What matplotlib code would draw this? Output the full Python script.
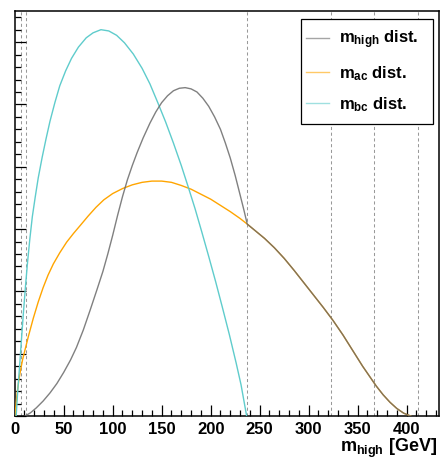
import matplotlib
matplotlib.use('Agg')
import matplotlib.pyplot as plt
from matplotlib.ticker import MultipleLocator
from matplotlib.patches import Rectangle

plt.rcParams['font.family'] = ['Liberation Sans', 'DejaVu Sans']
plt.rcParams['font.weight'] = 'bold'
plt.rcParams['mathtext.fontset'] = 'custom'
plt.rcParams['mathtext.rm'] = 'Liberation Sans:bold'
plt.rcParams['mathtext.it'] = 'Liberation Sans:bold'
plt.rcParams['mathtext.bf'] = 'Liberation Sans:bold'

# mbc distribution (arbitrary units)
bc_x = [1.5, 3, 5, 7, 9, 11, 13, 15.5, 18, 21, 24, 28, 32, 36, 41, 46, 52, 58,
        65, 73, 80, 88, 96, 104, 112, 121, 130, 138, 146, 154, 162, 170, 177,
        184, 191, 198, 205, 212, 219, 226, 231, 236.7]
bc_y = [0, 0.38, 0.80, 1.25, 1.68, 2.08, 2.45, 2.85, 3.20, 3.52, 3.82, 4.15,
        4.45, 4.73, 5.03, 5.30, 5.54, 5.74, 5.92, 6.07, 6.15, 6.20, 6.18, 6.11,
        5.99, 5.81, 5.58, 5.33, 5.03, 4.72, 4.38, 4.02, 3.68, 3.33, 2.95, 2.56,
        2.16, 1.74, 1.31, 0.85, 0.50, 0]

# mac distribution
ac_x = [0.3, 2, 4, 6, 8, 10.5, 14, 19, 24, 29, 34, 39.4, 46, 53, 60, 67, 75,
        83, 91, 100, 110, 120, 130, 140, 150, 160, 170, 180, 190, 200, 210,
        220, 230, 237.3, 245, 255, 265, 275, 285, 295, 305, 315, 325, 335, 345,
        355, 362, 369, 376, 383, 390, 397, 404]
ac_y = [0, 0.30, 0.55, 0.74, 0.90, 1.06, 1.28, 1.57, 1.83, 2.06, 2.26, 2.44,
        2.62, 2.79, 2.93, 3.06, 3.21, 3.35, 3.47, 3.57, 3.65, 3.71, 3.75, 3.77,
        3.77, 3.75, 3.70, 3.64, 3.56, 3.48, 3.38, 3.28, 3.17, 3.08, 2.98, 2.85,
        2.70, 2.53, 2.34, 2.14, 1.94, 1.74, 1.53, 1.30, 1.05, 0.80, 0.64, 0.48,
        0.34, 0.22, 0.12, 0.045, 0]

# mhigh distribution up to the kink; above it follows mac
high_x = [10.5, 16, 22, 29, 36, 43, 50, 57, 63, 70, 77, 84, 90, 95, 100, 105,
          110, 115, 120, 125, 131, 138, 144, 150, 156, 162, 168, 174, 180, 186,
          192, 198, 204, 210, 215, 220, 225, 230, 234]
high_y = [0, 0.05, 0.13, 0.24, 0.37, 0.52, 0.70, 0.90, 1.10, 1.38, 1.70, 2.03,
          2.32, 2.60, 2.90, 3.22, 3.52, 3.79, 4.02, 4.23, 4.46, 4.70, 4.88,
          5.03, 5.14, 5.22, 5.26, 5.27, 5.25, 5.20, 5.10, 4.97, 4.80, 4.60,
          4.38, 4.14, 3.86, 3.55, 3.30]
kink = 237.3

# endpoint markers
edges = [6.5, 11.5, 237.3, 322.4, 366.6, 412]

tail = [(x, y) for x, y in zip(ac_x, ac_y) if x >= kink]
hx = high_x + [p[0] for p in tail]
hy = high_y + [p[1] for p in tail]

fig = plt.figure(figsize=(4.41, 4.61), dpi=100)
ax = fig.add_axes([14.7 / 441, 45 / 461, 424.3 / 441, 405 / 461])

for e in edges:
    ax.axvline(e, color='#999999', lw=0.75, dashes=(3, 2.5), zorder=1)

l1, = ax.plot(hx, hy, color='#6a6a6a', lw=1.0, zorder=4, alpha=0.85)
l2, = ax.plot(ac_x, ac_y, color='#ffa500', lw=1.0, zorder=3)
l3, = ax.plot(bc_x, bc_y, color='#5fcccc', lw=1.0, zorder=3)

ax.set_xlim(0, 433)
ax.set_ylim(0, 6.5)
ax.xaxis.set_major_locator(MultipleLocator(50))
ax.xaxis.set_minor_locator(MultipleLocator(10))
ax.yaxis.set_major_locator(MultipleLocator(1))
ax.yaxis.set_minor_locator(MultipleLocator(0.2))
ax.tick_params(which='both', direction='in', top=False, right=False, width=0.9)
ax.tick_params(which='major', length=8)
ax.tick_params(which='minor', length=4.3)
ax.tick_params(axis='x', labelsize=12, pad=4)
ax.tick_params(axis='y', labelleft=False)
for lab in ax.get_xticklabels():
    lab.set_fontweight('bold')
for s in ax.spines.values():
    s.set_linewidth(1.1)

fig.text(437 / 441, 9 / 461, r'$m_{high}$ [GeV]', ha='right', va='baseline',
         fontsize=13, fontweight='bold')

# legend box
ax.add_patch(Rectangle((0.675, 0.721), 0.311, 0.259, transform=ax.transAxes,
                       facecolor='white', edgecolor='black', lw=0.9, zorder=5))
leg = ax.legend([l1, l2, l3], [r'$m_{high}$ dist.', r'$m_{ac}$ dist.', r'$m_{bc}$ dist.'],
                loc='upper left', bbox_to_anchor=(0.6866, 0.956), borderaxespad=0,
                frameon=False, prop={'size': 12, 'weight': 'bold'},
                handlelength=1.4, handletextpad=0.6, labelspacing=0.75,
                borderpad=0)
leg.set_zorder(6)
for h in leg.get_lines():
    h.set_alpha(0.6)

fig.savefig('out.png', dpi=100)
